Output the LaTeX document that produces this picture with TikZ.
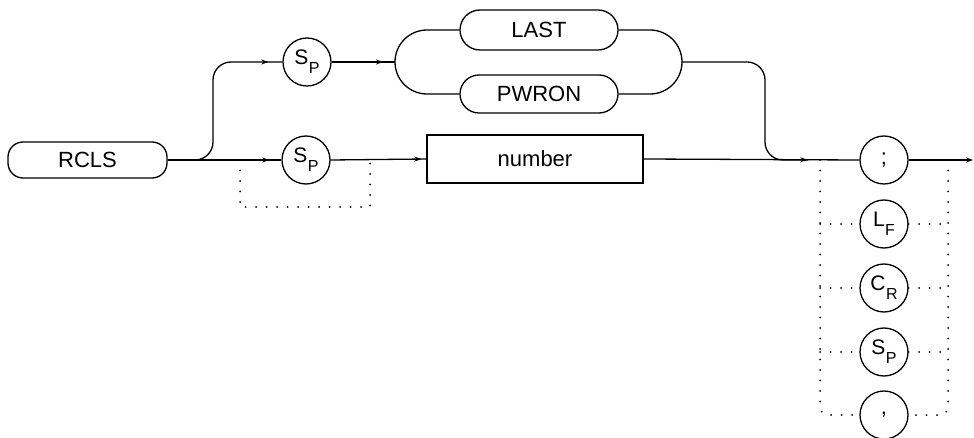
\documentclass[tikz,border=0pt]{standalone}
\usepackage{fontspec}
\setmainfont{Liberation Sans}
\usetikzlibrary{arrows.meta,decorations.markings}
\newcommand{\twolet}[2]{{\fontsize{21}{21}\selectfont #1}\kern0.5pt\raisebox{-9pt}{\fontsize{16}{16}\selectfont #2}}
\tikzset{
 line/.style={line width=1.3pt},
 term/.style={draw, line width=1.3pt, rounded corners=15pt, minimum width=159pt, minimum height=36pt, inner sep=0pt, font=\fontsize{22}{22}\selectfont},
 circ/.style={draw, circle, line width=1.3pt, minimum size=48pt, inner sep=0pt, font=\fontsize{22}{22}\selectfont},
 boxnode/.style={draw, line width=1.3pt, minimum width=216pt, minimum height=48pt, inner sep=0pt, font=\fontsize{22}{22}\selectfont},
 dots/.style={line width=2pt, dash pattern=on 0pt off 10.5pt, line cap=round},
 arrat/.style={postaction={decorate, decoration={markings, mark=at position #1 with {\arrow{Stealth[length=7pt,width=5pt]}}}}},
}
\begin{document}
\begin{tikzpicture}[x=1pt,y=-1pt]
\useasboundingbox (0,0) rectangle (974,438);
% nodes
\node[term] (rcls) at (87.5,160) {RCLS};
\node[circ] (sp1) at (307,62) {\twolet{S}{P}};
\node[circ] (sp2) at (306,160) {\twolet{S}{P}};
\node[term, rounded corners=20pt, minimum width=158pt, minimum height=40pt] (last) at (539,30) {LAST};
\node[term, rounded corners=19pt, minimum width=158pt, minimum height=38pt] (pwron) at (539,94) {PWRON};
\node[boxnode] (num) at (535,159) {number};
\node[circ] (semi) at (884,160) {;};
\node[circ] (lf) at (884,224) {\twolet{L}{F}};
\node[circ] (cr) at (884,288) {\twolet{C}{R}};
\node[circ] (sp3) at (884,352) {\twolet{S}{P}};
\node[circ] (comma) at (884,415) {,};
% coordinates
\coordinate (bl) at (395,62);
\coordinate (br) at (682,62);
\coordinate (jn) at (808,160);
\coordinate (out) at (973,160);
\coordinate (d1) at (240,160);
\coordinate (d2) at (370,160);
\coordinate (rl) at (820,160);
\coordinate (rr) at (948,160);
% connectors
\draw[line, rounded corners=18pt, arrat=-14pt] (rcls.east) -- (213,160) -- (213,62) -- (sp1.west);
\draw[line, arrat=-12pt] (rcls.east) -- (sp2.west);
\draw[line, arrat=-12pt] (sp1.east) -- (bl);
\draw[line, rounded corners=32pt] (bl) -- (395,30) -- (last.west);
\draw[line, rounded corners=32pt] (bl) -- (395,94) -- (pwron.west);
\draw[line, rounded corners=32pt] (last.east) -- (682,30) -- (br);
\draw[line, rounded corners=32pt] (pwron.east) -- (682,94) -- (br);
\draw[line, rounded corners=18pt] (br) -- (765,62) -- (765,160) -- (jn);
\draw[line, arrat=-5pt] (sp2.east) -- (num.west);
\draw[line, arrat=-52pt] (num.east) -- (semi.west);
\draw[line, -{Stealth[length=7pt,width=5pt]}] (semi.east) -- (out);
% dotted bypasses
\draw[dots] (d1) -- (240,207) -- (370,207) -- (d2);
\draw[dots, rounded corners=8pt] (rl) -- (820,415) -- (comma.west);
\draw[dots, rounded corners=8pt] (rr) -- (948,415) -- (comma.east);
\draw[dots] (lf.west -| rl) -- (lf.west);
\draw[dots] (lf.east) -- (lf.east -| rr);
\draw[dots] (cr.west -| rl) -- (cr.west);
\draw[dots] (cr.east) -- (cr.east -| rr);
\draw[dots] (sp3.west -| rl) -- (sp3.west);
\draw[dots] (sp3.east) -- (sp3.east -| rr);
\end{tikzpicture}
\end{document}
